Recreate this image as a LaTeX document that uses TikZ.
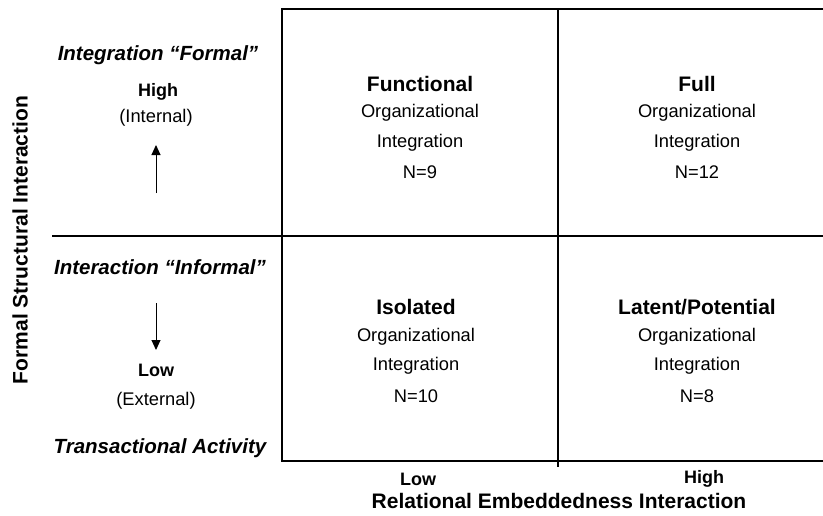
\documentclass[tikz,border=0pt]{standalone}
\usepackage{fontspec}
\setmainfont{Liberation Sans}
\usetikzlibrary{arrows.meta}
\begin{document}
\begin{tikzpicture}[x=1pt,y=-1pt,
  gridline/.style={line width=2.4pt,draw=black},
  qtitle/.style={font=\bfseries\fontsize{21}{25}\selectfont,inner sep=0pt},
  qtext/.style={font=\fontsize{18.3}{22}\selectfont,inner sep=0pt},
  sidehead/.style={font=\bfseries\itshape\fontsize{20.5}{24}\selectfont,inner sep=0pt},
  levelb/.style={font=\bfseries\fontsize{18}{22}\selectfont,inner sep=0pt},
  axislabel/.style={font=\bfseries\fontsize{21}{25}\selectfont,inner sep=0pt},
  dirarrow/.style={line width=1pt,-{Triangle[length=10pt,width=9pt]}}]
\useasboundingbox (0,0) rectangle (823,515);
\fill[white] (0,0) rectangle (823,515);
% grid coordinates
\coordinate (TL) at (282,9);
\coordinate (TM) at (558,9);
\coordinate (TR) at (823,9);
\coordinate (ML) at (52,236);
\coordinate (MR) at (823,236);
\coordinate (BL) at (282,461);
\coordinate (BMx) at (558,467);
\coordinate (BR) at (823,461);
\draw[gridline] (TR) -- (TL) -- (BL) -- (BR);
\draw[gridline] (ML) -- (MR);
\draw[gridline] (TM) -- (BMx);
% quadrant: Functional
\node[qtitle] (f1) at (420,84) {Functional};
\node[qtext] (f2) at (420,113) {Organizational};
\node[qtext] (f3) at (420,143) {Integration};
\node[qtext] (f4) at (420,172) {N=9};
% quadrant: Full
\node[qtitle] (u1) at (697,84) {Full};
\node[qtext] (u2) at (697,113) {Organizational};
\node[qtext] (u3) at (697,143) {Integration};
\node[qtext] (u4) at (697,172) {N=12};
% quadrant: Isolated
\node[qtitle] (i1) at (416,307) {Isolated};
\node[qtext] (i2) at (416,337) {Organizational};
\node[qtext] (i3) at (416,366) {Integration};
\node[qtext] (i4) at (416,396) {N=10};
% quadrant: Latent/Potential
\node[qtitle] (l1) at (697,307) {Latent/Potential};
\node[qtext] (l2) at (697,337) {Organizational};
\node[qtext] (l3) at (697,366) {Integration};
\node[qtext] (l4) at (697,396) {N=8};
% left side
\node[sidehead] (sf) at (158,55) {Integration “Formal”};
\node[levelb] (sh) at (158,92) {High};
\node[qtext] (si) at (156,118) {(Internal)};
\coordinate (upS) at (156,193);
\coordinate (upE) at (156,145);
\draw[dirarrow] (upS) -- (upE);
\node[sidehead] (sinf) at (160,267) {Interaction “Informal”};
\coordinate (dnS) at (156,303);
\coordinate (dnE) at (156,350);
\draw[dirarrow] (dnS) -- (dnE);
\node[levelb] (sl) at (156,370) {Low};
\node[qtext] (se) at (156,401) {(External)};
\node[sidehead] (st) at (160,448) {Transactional Activity};
% axes
\node[axislabel,rotate=90] (yax) at (20,240) {Formal Structural Interaction};
\node[levelb] (xlow) at (418,479) {Low};
\node[levelb] (xhigh) at (704,479) {High};
\node[axislabel] (xax) at (559,501) {Relational Embeddedness Interaction};
\end{tikzpicture}
\end{document}
